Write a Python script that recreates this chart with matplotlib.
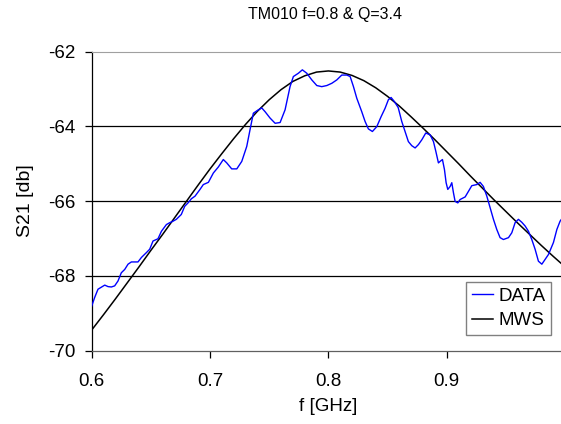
import matplotlib
matplotlib.use("Agg")
import matplotlib.pyplot as plt

plt.rcParams['font.family'] = ['Liberation Sans', 'DejaVu Sans']

# measured transmission (DATA)
freq_data = [
    0.600, 0.6025, 0.6053, 0.611, 0.6138, 0.6166, 0.6194, 0.6222, 0.625, 0.6279,
    0.6307, 0.6335, 0.6391, 0.642, 0.6462, 0.649, 0.6518, 0.656, 0.6589, 0.6631,
    0.6659, 0.6687, 0.6715, 0.6757, 0.6786, 0.6814, 0.6842, 0.6873, 0.6915, 0.6943,
    0.6986, 0.7028, 0.707, 0.7112, 0.7141, 0.7183, 0.7226, 0.7268, 0.731, 0.7338,
    0.7366, 0.7408, 0.7437, 0.7465, 0.7507, 0.755, 0.7592, 0.7634, 0.7676, 0.7704,
    0.7747, 0.778, 0.7817, 0.786, 0.7902, 0.7944, 0.7987, 0.8029, 0.8071, 0.8113,
    0.8156, 0.8184, 0.8212, 0.824, 0.8282, 0.831, 0.8338, 0.8372, 0.8409, 0.8446,
    0.8479, 0.8507, 0.853, 0.8558, 0.859, 0.862, 0.8648, 0.8676, 0.8705, 0.8733,
    0.8761, 0.879, 0.8823, 0.886, 0.8888, 0.8908, 0.893, 0.8944, 0.8964, 0.8981,
    0.8995, 0.9009, 0.9029, 0.9043, 0.9057, 0.9071, 0.9094, 0.9113, 0.9156, 0.9184,
    0.9212, 0.9254, 0.9282, 0.931, 0.9339, 0.9367, 0.9395, 0.9423, 0.9451, 0.9479,
    0.9522, 0.955, 0.9578, 0.9606, 0.9635, 0.9663, 0.9691, 0.9719, 0.9747, 0.9775,
    0.9804, 0.9832, 0.986, 0.9902, 0.9931, 0.9958, 0.9985,
]
s21_data = [
    -68.81, -68.58, -68.36, -68.25, -68.29, -68.30, -68.27, -68.14, -67.92, -67.83,
    -67.69, -67.63, -67.63, -67.51, -67.38, -67.29, -67.07, -67.01, -66.81, -66.63,
    -66.58, -66.54, -66.49, -66.36, -66.14, -66.05, -65.94, -65.87, -65.69, -65.56,
    -65.50, -65.25, -65.09, -64.89, -64.98, -65.14, -65.14, -64.94, -64.54, -64.09,
    -63.65, -63.56, -63.51, -63.61, -63.78, -63.92, -63.90, -63.56, -62.94, -62.67,
    -62.58, -62.49, -62.58, -62.76, -62.91, -62.94, -62.91, -62.85, -62.76, -62.63,
    -62.63, -62.67, -62.94, -63.25, -63.61, -63.87, -64.07, -64.14, -64.01, -63.74,
    -63.52, -63.29, -63.23, -63.34, -63.50, -63.87, -64.14, -64.41, -64.52, -64.58,
    -64.49, -64.36, -64.18, -64.23, -64.41, -64.67, -64.98, -64.94, -64.89, -65.16,
    -65.51, -65.69, -65.61, -65.51, -65.78, -66.01, -66.05, -65.96, -65.89, -65.74,
    -65.59, -65.56, -65.50, -65.61, -65.87, -66.18, -66.49, -66.76, -66.98, -67.03,
    -66.98, -66.85, -66.58, -66.49, -66.57, -66.67, -66.81, -67.03, -67.29, -67.61,
    -67.69, -67.56, -67.43, -67.11, -66.76, -66.54, -66.42,
]

# simulated curve (MWS)
freq_mws = [
    0.60, 0.61, 0.62, 0.63, 0.64, 0.65, 0.66, 0.67, 0.68, 0.69,
    0.70, 0.71, 0.72, 0.73, 0.74, 0.75, 0.76, 0.77, 0.78, 0.79,
    0.80, 0.81, 0.82, 0.83, 0.84, 0.85, 0.86, 0.87, 0.88, 0.89,
    0.90, 0.91, 0.92, 0.93, 0.94, 0.95, 0.96, 0.97, 0.98, 0.99, 1.00,
]
s21_mws = [
    -69.45, -69.04, -68.62, -68.19, -67.76, -67.32, -66.89, -66.45, -66.01, -65.57,
    -65.14, -64.73, -64.33, -63.95, -63.60, -63.29, -63.02, -62.80, -62.65, -62.55,
    -62.52, -62.55, -62.64, -62.78, -62.97, -63.20, -63.46, -63.75, -64.05, -64.36,
    -64.68, -65.00, -65.33, -65.65, -65.97, -66.28, -66.59, -66.89, -67.19, -67.48, -67.76,
]

x_ticks = [0.6, 0.7, 0.8, 0.9]
y_ticks = [-70, -68, -66, -64, -62]

fig = plt.figure(figsize=(5.61, 4.24), dpi=100)
ax = fig.add_axes([0.1635, 0.1733, 0.8437, 0.7052])

for y in [-64, -66, -68]:
    ax.axhline(y, color='black', lw=0.9, zorder=1)

ax.plot(freq_data, s21_data, color='#0000ff', lw=1.0, label='DATA', zorder=3)
ax.plot(freq_mws, s21_mws, color='black', lw=1.1, label='MWS', zorder=2)

ax.set_xlim(0.6, 1.0)
ax.set_ylim(-70, -62)
ax.set_xticks(x_ticks)
ax.set_xticklabels([f"{t:.1f}" for t in x_ticks])
ax.set_yticks(y_ticks)
ax.set_yticklabels([f"{t:d}" for t in y_ticks])
ax.tick_params(direction='out', length=5, width=0.9, labelsize=13.5, color='black')
ax.tick_params(axis='x', pad=11)
ax.tick_params(axis='y', pad=7)

ax.spines['right'].set_visible(False)
ax.spines['top'].set_color('#a0a0a0')
ax.spines['left'].set_linewidth(0.9)
ax.spines['bottom'].set_linewidth(0.9)
ax.spines['bottom'].set_color('#606060')

ax.set_xlabel("f [GHz]", fontsize=13.5, labelpad=6)
ax.set_ylabel("S21 [db]", fontsize=14, labelpad=10)
fig.text(325 / 561, 1 - 14 / 424, "TM010 f=0.8 & Q=3.4", fontsize=11.5,
         ha='center', va='center')

leg = ax.legend(loc='upper right', bbox_to_anchor=(0.9704, 0.229), borderaxespad=0,
                fontsize=13.5, fancybox=False, framealpha=1, edgecolor='#808080',
                handlelength=1.1, handletextpad=0.3, labelspacing=0.4,
                borderpad=0.3)
leg.get_frame().set_linewidth(1.0)

fig.savefig("out.png", dpi=100)
